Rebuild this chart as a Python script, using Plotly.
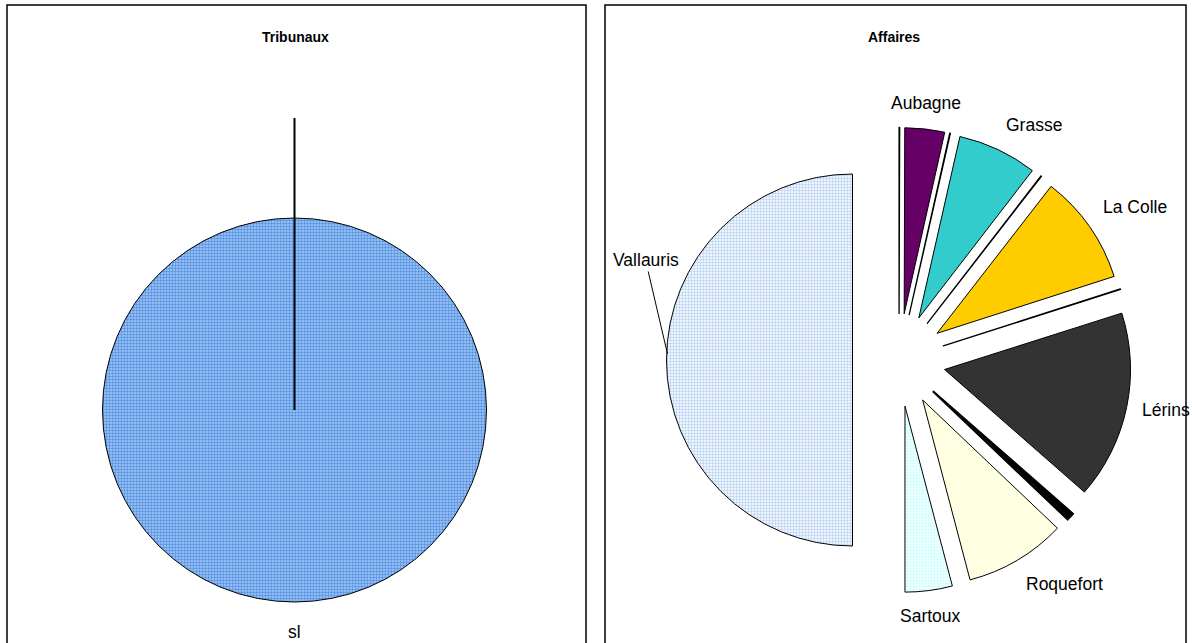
import math
import plotly.graph_objects as go

# Tribunaux: a single court, the whole disc
tribunaux_names = ["sl"]
tribunaux_values = [100]

# Affaires: cases per court, clockwise from 12 o'clock.
# Blank names are the near-empty slices drawn as black separators.
affaires_names = ["", "Aubagne", "", "Grasse", "", "La Colle", "", "Lérins", "", "",
                  "Roquefort", "Sartoux", "Vallauris"]
affaires_values = [0.05, 3.45, 0.05, 6.9, 0.05, 9.55, 0.05, 16.35, 0.45, 0.2,
                   8.8, 4.1, 50]
affaires_colors = ["#000000", "#660066", "#000000", "#33CCCC", "#000000", "#FFCC00",
                   "#000000", "#333333", "#000000", "#000000",
                   "#FFFFE3", "#E3FFFF", "#D6E7FB"]
affaires_pattern = ["", "", "", "", "", "", "", "", "", "", ".", ".", "."]
affaires_pattern_fg = ["#000000"] * 10 + ["#FFFFC8", "#C8FFFF", "#B8D3F5"]

W, H = 1192, 643
FONT = "Liberation Sans, Arial, sans-serif"
LABEL_SIZE = 17.5
PULL = 0.25

# pie boxes in pixels (left, top, size)
LEFT_BOX = (102.5, 218, 384)
RIGHT_BOX = (666.5, 127.5, 465)


def px_x(v):
    return v / W


def px_y(v):
    return 1 - v / H


def box_domain(box):
    x0, y0, s = box
    return dict(x=[px_x(x0), px_x(x0 + s)], y=[px_y(y0 + s), px_y(y0)])


def mid_angles(values):
    total = float(sum(values))
    acc, mids = 0.0, []
    for v in values:
        mids.append((acc + v / 2) / total * 360.0)
        acc += v
    return mids


def outside_label(name, theta_deg, cx, cy, dist):
    t = math.radians(theta_deg)
    dx, dy = math.sin(t), -math.cos(t)
    xa = "left" if dx > 0.3 else ("right" if dx < -0.3 else "center")
    ya = "bottom" if dy < -0.3 else ("top" if dy > 0.3 else "middle")
    return dict(text=name, xref="paper", yref="paper",
                x=px_x(cx + dist * dx), y=px_y(cy + dist * dy),
                xanchor=xa, yanchor=ya, showarrow=False,
                font=dict(family=FONT, size=LABEL_SIZE, color="#000000"))


fig = go.Figure()

fig.add_trace(go.Pie(
    values=tribunaux_values,
    textinfo="none",
    sort=False,
    direction="clockwise",
    rotation=0,
    marker=dict(
        colors=["#7FB0EE"],
        line=dict(color="#000000", width=1),
        pattern=dict(shape=".", fgcolor="#5390E2", bgcolor="#A6CAF6",
                     size=3, solidity=0.5, fillmode="replace"),
    ),
    domain=box_domain(LEFT_BOX),
    showlegend=False,
    hoverinfo="skip",
))

thin = [v < 1 for v in affaires_values]
fig.add_trace(go.Pie(
    values=affaires_values,
    textinfo="none",
    sort=False,
    direction="clockwise",
    rotation=0,
    pull=[PULL] * len(affaires_values),
    marker=dict(
        colors=affaires_colors,
        line=dict(color="#000000", width=[1.3 if t else 1 for t in thin]),
        pattern=dict(shape=affaires_pattern, fgcolor=affaires_pattern_fg,
                     size=3, solidity=0.5, fillmode="replace"),
    ),
    domain=box_domain(RIGHT_BOX),
    showlegend=False,
    hoverinfo="skip",
))

shapes = [
    # panel frames
    dict(type="rect", xref="paper", yref="paper",
         x0=px_x(7), x1=px_x(586), y0=px_y(660), y1=px_y(5),
         line=dict(color="#000000", width=1.5)),
    dict(type="rect", xref="paper", yref="paper",
         x0=px_x(605), x1=px_x(1186), y0=px_y(660), y1=px_y(5),
         line=dict(color="#000000", width=1.5)),
]

# Tribunaux geometry
lx, ly, ls = LEFT_BOX
l_cx, l_cy, l_r = lx + ls / 2, ly + ls / 2, ls / 2
# radial line at 12 o'clock running past the rim
shapes.append(dict(type="line", xref="paper", yref="paper",
                   x0=px_x(l_cx), x1=px_x(l_cx), y0=px_y(l_cy), y1=px_y(l_cy - l_r - 100),
                   line=dict(color="#000000", width=2)))

# Affaires geometry
rx, ry, rs = RIGHT_BOX
r_cx, r_cy = rx + rs / 2, ry + rs / 2
r_r = rs / (2 + 2 * PULL)
r_out = r_r * (1 + PULL)
GAP = 14

annotations = [
    dict(text="<b>Tribunaux</b>", xref="paper", yref="paper",
         x=px_x(295), y=px_y(37), xanchor="center", yanchor="middle",
         showarrow=False, font=dict(family=FONT, size=14, color="#000000")),
    dict(text="<b>Affaires</b>", xref="paper", yref="paper",
         x=px_x(894), y=px_y(37), xanchor="center", yanchor="middle",
         showarrow=False, font=dict(family=FONT, size=14, color="#000000")),
]

for name, theta in zip(tribunaux_names, mid_angles(tribunaux_values)):
    annotations.append(outside_label(name, theta, l_cx, l_cy, l_r + 18))

for name, theta in zip(affaires_names, mid_angles(affaires_values)):
    if not name:
        continue
    if name == "Vallauris":
        # label lifted above the slice, tied back with a leader line
        t = math.radians(theta)
        tip_x = r_cx + (r_out - 1) * math.sin(t)
        tip_y = r_cy - (r_out - 1) * math.cos(t) - 6
        annotations.append(dict(
            text=name, xref="paper", yref="paper",
            x=px_x(tip_x), y=px_y(tip_y), ax=-22, ay=-94,
            showarrow=True, arrowhead=0, arrowwidth=1, arrowcolor="#000000",
            standoff=0, startstandoff=0,
            font=dict(family=FONT, size=LABEL_SIZE, color="#000000")))
        continue
    annotations.append(outside_label(name, theta, r_cx, r_cy, r_out + GAP))

fig.update_layout(
    width=W, height=H,
    autosize=False,
    margin=dict(l=0, r=0, t=0, b=0, pad=0, autoexpand=False),
    paper_bgcolor="#FFFFFF",
    plot_bgcolor="#FFFFFF",
    shapes=shapes,
    annotations=annotations,
)

fig.write_html("out.html")
